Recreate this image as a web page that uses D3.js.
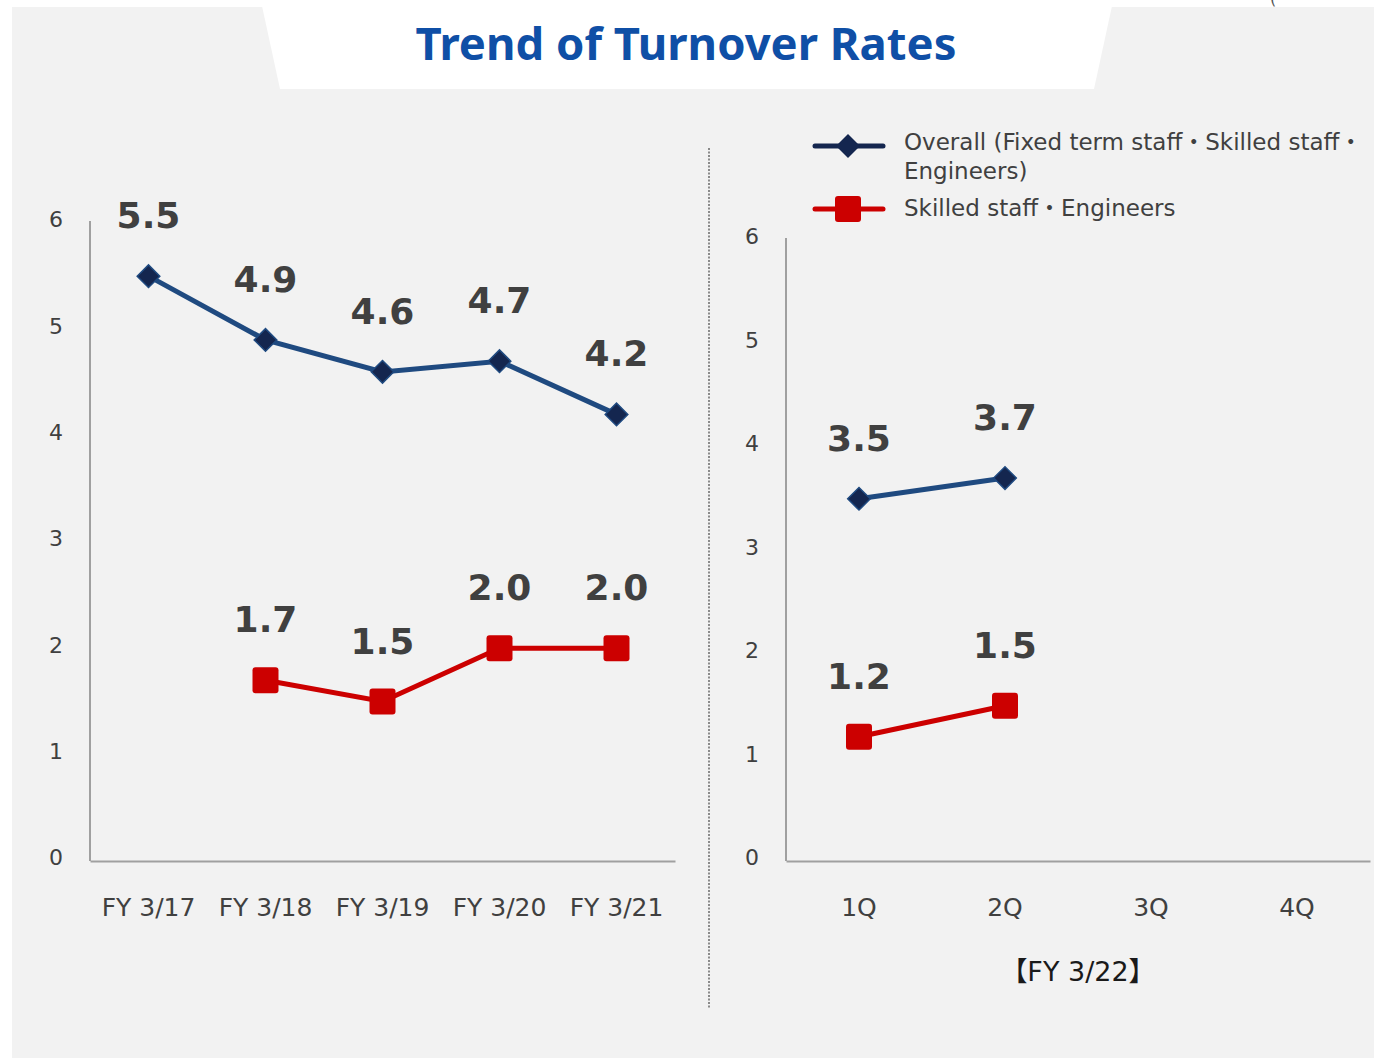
<!DOCTYPE html>
<html>
<head>
<meta charset="utf-8">
<script src="https://cdn.jsdelivr.net/npm/d3@7"></script>
<style>
  body { margin: 0; background: #fff; }
</style>
</head>
<body>
<div class="usable"></div>
<script>
// data
const annualCats = ["FY 3/17", "FY 3/18", "FY 3/19", "FY 3/20", "FY 3/21"];
const annualOverall = [5.5, 4.9, 4.6, 4.7, 4.2];
const annualSkilled = [null, 1.7, 1.5, 2.0, 2.0];

const quarterCats = ["1Q", "2Q", "3Q", "4Q"];
const quarterOverall = [3.5, 3.7, null, null];
const quarterSkilled = [1.2, 1.5, null, null];

const yTicks = [0, 1, 2, 3, 4, 5, 6];
const seriesNames = ["Overall (Fixed term staff・Skilled staff・", "Engineers)", "Skilled staff・Engineers"];

const blue = "#1f4a80", navy = "#14264f", red = "#cc0000", txt = "#404040";
const font = "'DejaVu Sans', 'Noto Sans CJK JP', sans-serif";

const svg = d3.select(".usable").append("svg")
    .attr("width", 1374)
    .attr("height", 1058)
    .attr("font-family", font);

// background panel + title banner
svg.append("rect").attr("x", 12).attr("y", 7).attr("width", 1362).attr("height", 1051).attr("fill", "#f2f2f2");
svg.append("polygon").attr("points", "262,6 1112,6 1094,89 280,89").attr("fill", "#fff");
svg.append("text").text("(").attr("x", 1270).attr("y", 4).attr("font-size", 16).attr("fill", "#555");

svg.append("text")
    .text("Trend of Turnover Rates")
    .attr("x", 686).attr("y", 60)
    .attr("text-anchor", "middle")
    .attr("font-family", "'Noto Sans', sans-serif")
    .attr("font-size", 44).attr("font-weight", "bold")
    .attr("fill", "#0f4fa6")
    .attr("textLength", 541).attr("lengthAdjust", "spacingAndGlyphs");

// separator
svg.append("line").attr("x1", 709).attr("x2", 709).attr("y1", 148).attr("y2", 1008)
    .attr("stroke", "#8a8a8a").attr("stroke-width", 2).attr("stroke-dasharray", "2,1.5");

function drawPanel(cats, overall, skilled, left, right, top) {
    const x = d3.scaleBand().domain(cats).range([left, right]);
    const y = d3.scaleLinear().domain([0, 6]).range([861, top]);
    const g = svg.append("g");

    const ya = g.append("g").attr("transform", `translate(${left},0)`)
        .call(d3.axisLeft(y).tickValues(yTicks).tickSize(0).tickPadding(27).tickFormat(d3.format("d")));
    ya.select(".domain").attr("stroke", "#a0a0a0").attr("stroke-width", 2)
        .attr("d", `M0,${top - 2}V861`);
    ya.selectAll("text").attr("font-size", 22).attr("fill", txt).attr("font-family", font)
        .attr("dy", "0.18em");

    const xa = g.append("g").attr("transform", `translate(0,861)`)
        .call(d3.axisBottom(x).tickSize(0).tickPadding(38));
    xa.select(".domain").attr("stroke", "#a0a0a0").attr("stroke-width", 2);
    xa.selectAll("text").attr("font-size", 25).attr("fill", txt).attr("font-family", font)
        .attr("dy", "0.66em");

    const cx = (i) => x(cats[i]) + x.bandwidth() / 2;
    const line = d3.line().defined(d => d.v != null).x(d => cx(d.i)).y(d => y(d.v));

    [[overall, blue], [skilled, red]].forEach(([vals, col], k) => {
        const pts = vals.map((v, i) => ({ v, i }));
        g.append("path").datum(pts).attr("d", line)
            .attr("fill", "none").attr("stroke", col).attr("stroke-width", 5);
        const real = pts.filter(d => d.v != null);
        if (k === 0) {
            g.selectAll(null).data(real).enter().append("rect")
                .attr("x", -8).attr("y", -8).attr("width", 16).attr("height", 16)
                .attr("transform", d => `translate(${cx(d.i)},${y(d.v)}) rotate(45)`)
                .attr("fill", navy).attr("stroke", blue).attr("stroke-width", 1.5);
        } else {
            g.selectAll(null).data(real).enter().append("rect")
                .attr("x", d => cx(d.i) - 13).attr("y", d => y(d.v) - 13)
                .attr("width", 26).attr("height", 26).attr("rx", 3)
                .attr("fill", red);
        }
        g.selectAll(null).data(real).enter().append("text")
            .text(d => d.v.toFixed(1))
            .attr("x", d => cx(d.i)).attr("y", d => y(d.v) - 48)
            .attr("text-anchor", "middle")
            .attr("font-weight", "bold")
            .attr("font-size", 36).attr("fill", txt);
    });
}

drawPanel(annualCats, annualOverall, annualSkilled, 90, 675, 223);
drawPanel(quarterCats, quarterOverall, quarterSkilled, 786, 1370, 240);

svg.append("text").text("【FY 3/22】")
    .attr("x", 1078).attr("y", 981).attr("text-anchor", "middle")
    .attr("font-size", 27).attr("fill", "#1a1a1a");

// legend
const lg = svg.append("g");
lg.append("line").attr("x1", 815).attr("x2", 883).attr("y1", 146).attr("y2", 146)
    .attr("stroke", navy).attr("stroke-width", 5).attr("stroke-linecap", "round");
lg.append("rect").attr("x", -8.5).attr("y", -8.5).attr("width", 17).attr("height", 17)
    .attr("transform", "translate(848,146) rotate(45)").attr("fill", navy);
lg.append("line").attr("x1", 815).attr("x2", 883).attr("y1", 209).attr("y2", 209)
    .attr("stroke", red).attr("stroke-width", 5).attr("stroke-linecap", "round");
lg.append("rect").attr("x", 835).attr("y", 196).attr("width", 26).attr("height", 26).attr("rx", 3).attr("fill", red);

lg.append("text").text(seriesNames[0]).attr("x", 904).attr("y", 150).attr("font-size", 23).attr("fill", txt);
lg.append("text").text(seriesNames[1]).attr("x", 904).attr("y", 179).attr("font-size", 23).attr("fill", txt);
lg.append("text").text(seriesNames[2]).attr("x", 904).attr("y", 216).attr("font-size", 23).attr("fill", txt);
</script>
</body>
</html>
